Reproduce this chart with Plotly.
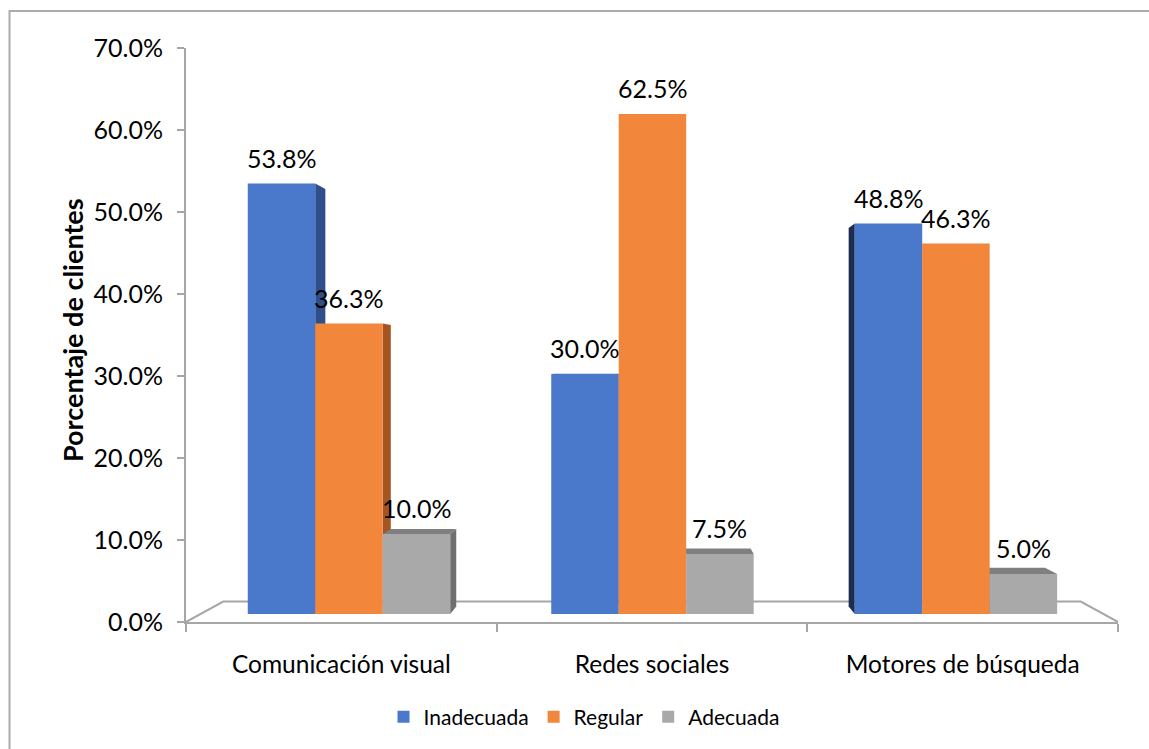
import plotly.graph_objects as go

# ---- data ----
categories = ["Comunicación visual", "Redes sociales", "Motores de búsqueda"]
series_names = ["Inadecuada", "Regular", "Adecuada"]
inadecuada = [53.8, 30.0, 48.8]
regular = [36.3, 62.5, 46.3]
adecuada = [10.0, 7.5, 5.0]
y_tick_values = [0, 10, 20, 30, 40, 50, 60, 70]

series_values = [inadecuada, regular, adecuada]

# ---- styling / geometry ----
W, H = 1149, 749
PX0, PX1 = 186, 1118          # plot area, pixels
PY_TOP, PY_BOT = 48, 622
FONT = "Lato"
AXIS_GREY = "#A6A6A6"

front_colors = ["#4A78CB", "#F2863A", "#A9A9A9"]
right_colors = ["#2F4E8C", "#A45521", "#6F6F6F"]
left_colors = ["#1D2C4F", "#7A3D14", "#555555"]
top_colors = ["#3B63AE", "#C96A26", "#7F7F7F"]

BARGAP = 0.333
BAR_W = (1 - BARGAP) / 3

# bars sit deeper in the 3D box than the axis wall, so they get their own scale
bar_x_range = [-0.537, 2.534]
bar_y_range = [-1.0, 70.75]
VP_BAR = (1.0, 30.9)          # vanishing point, bar-axis units
BAR_DEPTH = 0.97              # back face scale toward the vanishing point

VP_MAIN = (1.0, 31.1)         # vanishing point, front-axis units
FLOOR_DEPTH = 0.92

dom_x = [PX0 / W, PX1 / W]
dom_y = [(H - PY_BOT) / H, (H - PY_TOP) / H]


def back(pt, vp, depth):
    return (vp[0] + depth * (pt[0] - vp[0]), vp[1] + depth * (pt[1] - vp[1]))


def path_of(points, close=True):
    s = "M " + " L ".join(f"{x},{y}" for x, y in points)
    return s + (" Z" if close else "")


fig = go.Figure()

# keep the front (labelled) subplot alive
fig.add_trace(go.Scatter(x=[], y=[], xaxis="x", yaxis="y",
                         showlegend=False, hoverinfo="skip"))

for name, vals, col in zip(series_names, series_values, front_colors):
    fig.add_trace(go.Bar(
        x=list(range(len(categories))), y=vals, name=name,
        xaxis="x2", yaxis="y2",
        marker=dict(color=col, line=dict(width=0)),
        hoverinfo="skip",
    ))

shapes = []

# chart frame
shapes.append(dict(type="rect", xref="paper", yref="paper",
                   x0=9.5 / W, x1=1.05, y0=-0.05, y1=1 - 11 / H,
                   line=dict(color="#ABABAB", width=2), fillcolor="rgba(0,0,0,0)",
                   layer="below"))

# floor outline (front edge is the x axis line)
fl = (-0.5, 0)
fr = (2.5, 0)
floor_pts = [fl, back(fl, VP_MAIN, FLOOR_DEPTH), back(fr, VP_MAIN, FLOOR_DEPTH), fr]
shapes.append(dict(type="path", xref="x", yref="y", path=path_of(floor_pts, close=False),
                   line=dict(color=AXIS_GREY, width=2), layer="below"))

# side and top faces of the bars (front faces are drawn by the bar traces)
for i, vals in enumerate(series_values):
    for j, v in enumerate(vals):
        xc = j + (i - 1) * BAR_W
        xl, xr = xc - BAR_W / 2, xc + BAR_W / 2
        faces = []
        if xr < VP_BAR[0]:
            pts = [(xr, 0), (xr, v), back((xr, v), VP_BAR, BAR_DEPTH), back((xr, 0), VP_BAR, BAR_DEPTH)]
            faces.append((pts, right_colors[i]))
        if xl > VP_BAR[0]:
            pts = [(xl, 0), (xl, v), back((xl, v), VP_BAR, BAR_DEPTH), back((xl, 0), VP_BAR, BAR_DEPTH)]
            faces.append((pts, left_colors[i]))
        if v < VP_BAR[1]:
            pts = [(xl, v), (xr, v), back((xr, v), VP_BAR, BAR_DEPTH), back((xl, v), VP_BAR, BAR_DEPTH)]
            faces.append((pts, top_colors[i]))
        for pts, c in faces:
            shapes.append(dict(type="path", xref="x2", yref="y2", path=path_of(pts),
                               fillcolor=c, line=dict(width=0), layer="below"))

annotations = []
for i, vals in enumerate(series_values):
    for j, v in enumerate(vals):
        annotations.append(dict(
            x=j + (i - 1) * BAR_W, y=v, xref="x2", yref="y2",
            text=f"{v:.1f}%", showarrow=False, yshift=26,
            xanchor="center", yanchor="middle",
            font=dict(family=FONT, size=25, color="#000000"),
        ))

annotations.append(dict(
    x=73 / W, y=(H - 330) / H, xref="paper", yref="paper",
    text="<b>Porcentaje de clientes</b>", textangle=-90, showarrow=False,
    xanchor="center", yanchor="middle",
    font=dict(family=FONT, size=27, color="#000000"),
))

fig.update_layout(
    template="none",
    width=W, height=H,
    margin=dict(l=0, r=0, t=0, b=0, pad=0, autoexpand=False),
    paper_bgcolor="white", plot_bgcolor="rgba(0,0,0,0)",
    barmode="group", bargap=BARGAP, bargroupgap=0,
    showlegend=True,
    legend=dict(orientation="h", x=584 / W, xanchor="center",
                y=(H - 717) / H, yanchor="middle",
                font=dict(family=FONT, size=21, color="#000000"),
                bgcolor="rgba(0,0,0,0)", traceorder="normal"),
    xaxis=dict(domain=dom_x, range=[-0.5, 2.5], showgrid=False, zeroline=False,
               automargin=False,
               showline=True, linecolor=AXIS_GREY, linewidth=2,
               tickmode="array", tickvals=list(range(len(categories))), ticktext=categories,
               ticks="", ticklabelstandoff=20,
               tickfont=dict(family=FONT, size=24.5, color="#000000"),
               minor=dict(tickmode="array", tickvals=[-0.5, 0.5, 1.5, 2.5],
                          ticks="outside", ticklen=8, tickcolor=AXIS_GREY, tickwidth=2),
               fixedrange=True),
    yaxis=dict(domain=dom_y, range=[0, 70], showgrid=False, zeroline=False,
               automargin=False,
               showline=True, linecolor=AXIS_GREY, linewidth=2,
               tickmode="array", tickvals=y_tick_values,
               ticktext=[f"{t:.1f}%" for t in y_tick_values],
               ticks="outside", ticklen=7, tickcolor=AXIS_GREY, tickwidth=2,
               ticklabelstandoff=9,
               tickfont=dict(family=FONT, size=25, color="#000000"),
               fixedrange=True),
    xaxis2=dict(overlaying="x", range=bar_x_range, visible=False, fixedrange=True,
                automargin=False),
    yaxis2=dict(overlaying="y", range=bar_y_range, visible=False, fixedrange=True,
                automargin=False),
    shapes=shapes,
    annotations=annotations,
)

fig.write_html("out.html")
